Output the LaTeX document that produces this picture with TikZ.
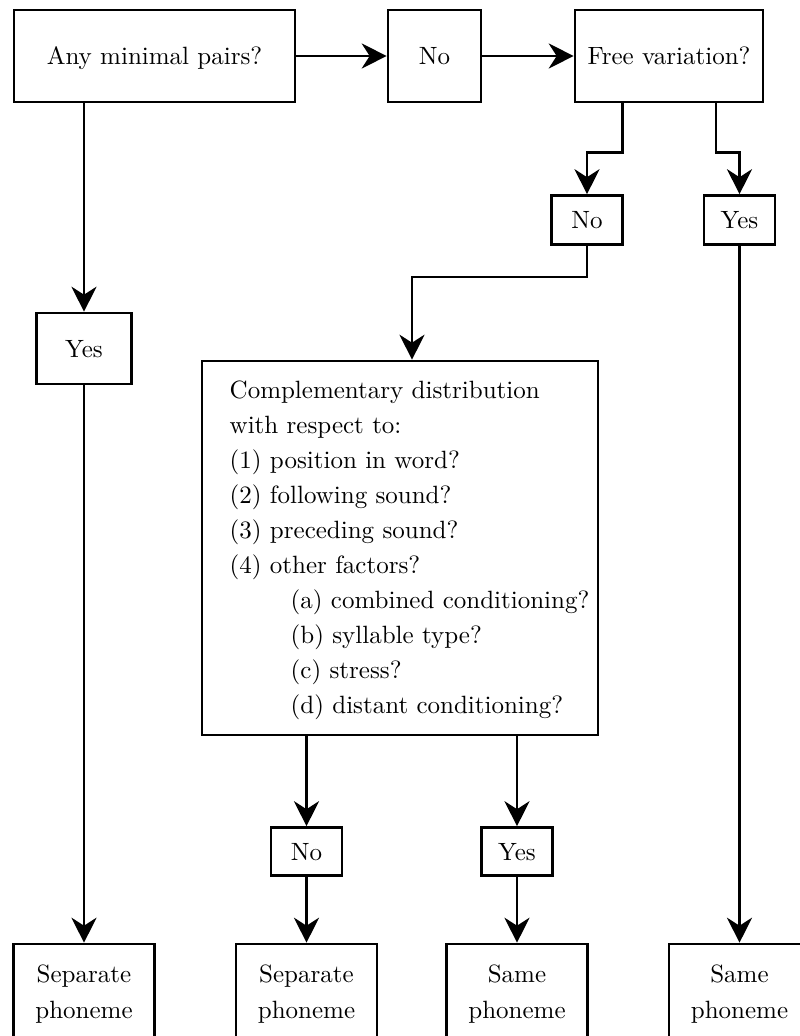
\documentclass[tikz,border=0pt]{standalone}
\usepackage{fontspec}
\setmainfont{lmroman10-regular}[Extension=.otf]
\usetikzlibrary{arrows.meta}

\begin{document}
\begin{tikzpicture}[x=1pt,y=-1pt,
    every node/.style={font=\fontsize{25}{35}\selectfont},
    box/.style={draw,line width=2.6pt,inner sep=0pt,text height=17pt,text depth=0pt},
    endbox/.style={draw,line width=2.6pt,inner sep=0pt,align=center,
      minimum width=141pt,minimum height=100pt,font=\fontsize{25}{36}\selectfont},
    flow/.style={line width=2.6pt,-{Stealth[length=25pt,width=25pt,inset=8pt]}}]

  \useasboundingbox (0,0) rectangle (800,1036);
  \clip (0,0) rectangle (800,1036);

  % top row
  \node[box,minimum width=281pt,minimum height=92pt] (minpairs) at (154.5,56) {Any minimal pairs?};
  \node[box,minimum width=93pt,minimum height=92pt] (nopairs) at (434.5,56) {No};
  \node[box,minimum width=188pt,minimum height=92pt] (freevar) at (669,56) {Free variation?};

  % answers
  \node[box,minimum width=71pt,minimum height=49pt] (nofree) at (587,220) {No};
  \node[box,minimum width=71pt,minimum height=49pt] (yesfree) at (739.5,220) {Yes};
  \node[box,minimum width=95pt,minimum height=71pt] (yespairs) at (84,348.5) {Yes};

  % complementary distribution
  \node[draw,line width=2.6pt,inner sep=0pt,minimum width=396pt,minimum height=374pt] (compl) at (400,548) {};
  \node[anchor=north west,align=left,inner sep=0pt] (compltext) at (229.5,380.3)
    {Complementary distribution\\
     with respect to:\\
     (1) position in word?\\
     (2) following sound?\\
     (3) preceding sound?\\
     (4) other factors?\\
     \hspace*{61pt}(a) combined conditioning?\\
     \hspace*{61pt}(b) syllable type?\\
     \hspace*{61pt}(c) stress?\\
     \hspace*{61pt}(d) distant conditioning?};

  \node[box,minimum width=71pt,minimum height=48pt] (nocompl) at (306.5,851.5) {No};
  \node[box,minimum width=71pt,minimum height=48pt] (yescompl) at (517,851.5) {Yes};

  % results
  \node[endbox] (sep1) at (84,994) {Separate\\phoneme};
  \node[endbox] (sep2) at (306.5,994) {Separate\\phoneme};
  \node[endbox] (same1) at (517,994) {Same\\phoneme};
  \node[endbox] (same2) at (739.5,994) {Same\\phoneme};

  \draw[flow] (minpairs) -- (nopairs);
  \draw[flow] (nopairs) -- (freevar);
  \draw[flow] ([xshift=-46.5pt]freevar.south) -- ++(0,49) -| (nofree);
  \draw[flow] ([xshift=47pt]freevar.south) -- ++(0,49) -| (yesfree);
  \draw[flow] (nofree) -- ++(0,57) -| ([xshift=12pt]compl.north);
  \draw[flow] (yespairs.north |- minpairs.south) -- (yespairs);
  \draw[flow] (yespairs) -- (sep1);
  \draw[flow] (yesfree) -- (same2);
  \draw[flow] (nocompl.north |- compl.south) -- (nocompl);
  \draw[flow] (yescompl.north |- compl.south) -- (yescompl);
  \draw[flow] (nocompl) -- (sep2);
  \draw[flow] (yescompl) -- (same1);
\end{tikzpicture}
\end{document}
